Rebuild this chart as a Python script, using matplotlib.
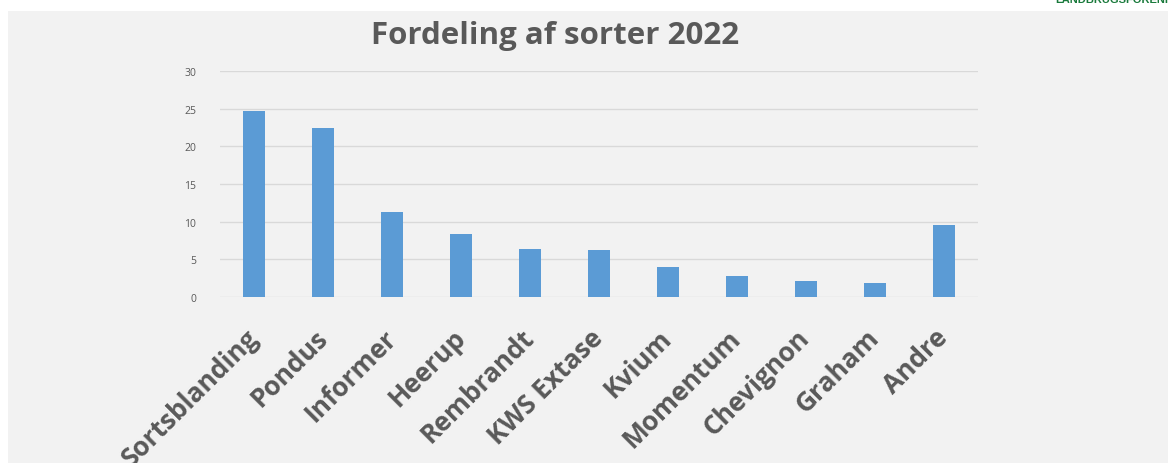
import numpy as np
import matplotlib as mpl
from matplotlib import pyplot as plt
from matplotlib.patches import Rectangle

plt.close("all")

# data
sorter = ["Sortsblanding", "Pondus", "Informer", "Heerup", "Rembrandt",
          "KWS Extase", "Kvium", "Momentum", "Chevignon", "Graham", "Andre"]
andel = [24.7, 22.4, 11.3, 8.4, 6.4, 6.2, 4.0, 2.8, 2.1, 1.9, 9.6]
y_ticks = [0, 5, 10, 15, 20, 25, 30]

grey = "#595959"
bar_col = "#5b9bd5"
font = "Open Sans"

fig = plt.figure(figsize=(11.68, 4.64), dpi=100)
fig.patch.set_facecolor("white")

# light grey slide panel behind the chart
fig.patches.append(Rectangle((8 / 1168, 0), 1.0, 1 - 12 / 464,
                             transform=fig.transFigure, facecolor="#f2f2f2",
                             edgecolor="none", zorder=-10))

# cut-off logo text in the top right corner
fig.text(1055 / 1168, 1.0, "LANDBRUGSFORENINGEN", color="#1a7a3c",
         fontsize=8, fontweight="bold", family="Liberation Sans",
         ha="left", va="center")

ax = fig.add_axes([220 / 1168, 1 - 298 / 464, 758 / 1168, 226 / 464])
ax.set_facecolor("none")

x = np.arange(len(sorter))
ax.bar(x, andel, width=0.32, color=bar_col, zorder=3)

ax.set_xlim(-0.5, len(sorter) - 0.5)
ax.set_ylim(0, 30)
ax.set_yticks(y_ticks)
ax.set_yticklabels([str(v) for v in y_ticks], fontsize=7.5, color=grey,
                   family=font)
ax.yaxis.grid(True, color="#d9d9d9", linewidth=1, zorder=0)
ax.tick_params(axis="both", length=0)
ax.tick_params(axis="y", pad=17)

ax.set_xticks(x)
ax.set_xticklabels(sorter, rotation=45, ha="right", va="center",
                   rotation_mode="anchor", fontsize=19, fontweight="bold",
                   color=grey, family=font)
ax.tick_params(axis="x", pad=26)

for s in ax.spines.values():
    s.set_visible(False)

fig.text(555 / 1168, 1 - 36 / 464, "Fordeling af sorter 2022", color=grey,
         fontsize=22.5, fontweight="bold", family=font,
         ha="center", va="center")

fig.savefig("out.png", dpi=100)
